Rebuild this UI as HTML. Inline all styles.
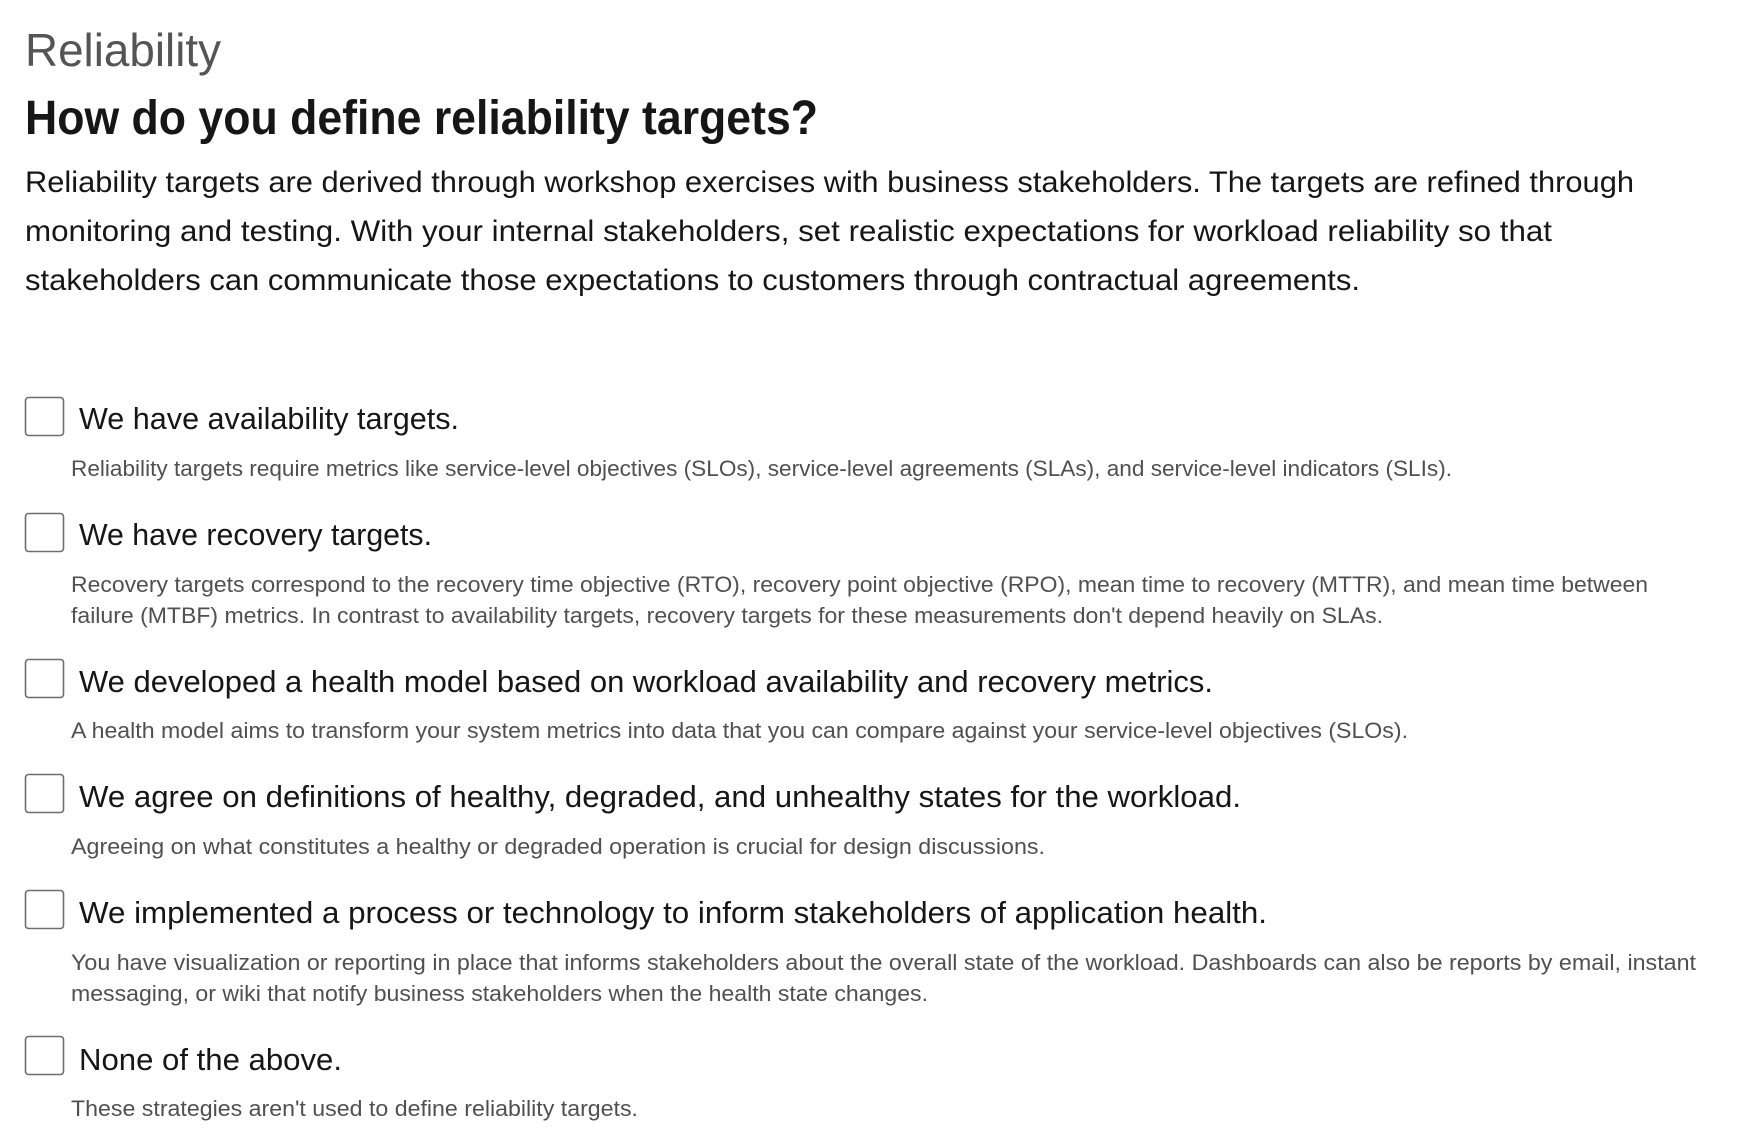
<!DOCTYPE html>
<html><head><meta charset="utf-8"><style>
html,body{margin:0;padding:0;background:#fff;}
svg{display:block;font-family:"Liberation Sans",sans-serif;}
.cb{fill:#fff;stroke:#6e6e6e;stroke-width:1.6;}
</style></head><body>
<svg width="1763" height="1142" viewBox="0 0 1763 1142">
<text x="25" y="66" font-size="46" fill="#555" textLength="196" lengthAdjust="spacingAndGlyphs">Reliability</text>
<text x="25" y="134" font-size="48" font-weight="bold" fill="#161616" textLength="793" lengthAdjust="spacingAndGlyphs">How do you define reliability targets?</text>
<g font-size="30" fill="#161616">
<text x="25" y="192" textLength="1609" lengthAdjust="spacingAndGlyphs">Reliability targets are derived through workshop exercises with business stakeholders. The targets are refined through</text>
<text x="25" y="241" textLength="1527" lengthAdjust="spacingAndGlyphs">monitoring and testing. With your internal stakeholders, set realistic expectations for workload reliability so that</text>
<text x="25" y="290" textLength="1335" lengthAdjust="spacingAndGlyphs">stakeholders can communicate those expectations to customers through contractual agreements.</text>
</g>
<g>
<rect class="cb" x="25.5" y="397.5" width="38" height="38" rx="3"/>
<rect class="cb" x="25.5" y="513.5" width="38" height="38" rx="3"/>
<rect class="cb" x="25.5" y="659.5" width="38" height="38" rx="3"/>
<rect class="cb" x="25.5" y="774.5" width="38" height="38" rx="3"/>
<rect class="cb" x="25.5" y="890.5" width="38" height="38" rx="3"/>
<rect class="cb" x="25.5" y="1036.5" width="38" height="38" rx="3"/>
</g>
<g font-size="31" fill="#161616">
<text x="79" y="429" textLength="380" lengthAdjust="spacingAndGlyphs">We have availability targets.</text>
<text x="79" y="545" textLength="353" lengthAdjust="spacingAndGlyphs">We have recovery targets.</text>
<text x="79" y="692" textLength="1134" lengthAdjust="spacingAndGlyphs">We developed a health model based on workload availability and recovery metrics.</text>
<text x="79" y="807" textLength="1162" lengthAdjust="spacingAndGlyphs">We agree on definitions of healthy, degraded, and unhealthy states for the workload.</text>
<text x="79" y="923" textLength="1188" lengthAdjust="spacingAndGlyphs">We implemented a process or technology to inform stakeholders of application health.</text>
<text x="79" y="1070" textLength="263" lengthAdjust="spacingAndGlyphs">None of the above.</text>
</g>
<g font-size="22" fill="#505050">
<text x="71" y="476" textLength="1381" lengthAdjust="spacingAndGlyphs">Reliability targets require metrics like service-level objectives (SLOs), service-level agreements (SLAs), and service-level indicators (SLIs).</text>
<text x="71" y="592" textLength="1577" lengthAdjust="spacingAndGlyphs">Recovery targets correspond to the recovery time objective (RTO), recovery point objective (RPO), mean time to recovery (MTTR), and mean time between</text>
<text x="71" y="623" textLength="1312" lengthAdjust="spacingAndGlyphs">failure (MTBF) metrics. In contrast to availability targets, recovery targets for these measurements don't depend heavily on SLAs.</text>
<text x="71" y="738" textLength="1337" lengthAdjust="spacingAndGlyphs">A health model aims to transform your system metrics into data that you can compare against your service-level objectives (SLOs).</text>
<text x="71" y="854" textLength="974" lengthAdjust="spacingAndGlyphs">Agreeing on what constitutes a healthy or degraded operation is crucial for design discussions.</text>
<text x="71" y="970" textLength="1625" lengthAdjust="spacingAndGlyphs">You have visualization or reporting in place that informs stakeholders about the overall state of the workload. Dashboards can also be reports by email, instant</text>
<text x="71" y="1001" textLength="857" lengthAdjust="spacingAndGlyphs">messaging, or wiki that notify business stakeholders when the health state changes.</text>
<text x="71" y="1116" textLength="567" lengthAdjust="spacingAndGlyphs">These strategies aren't used to define reliability targets.</text>
</g>
</svg>
</body></html>
